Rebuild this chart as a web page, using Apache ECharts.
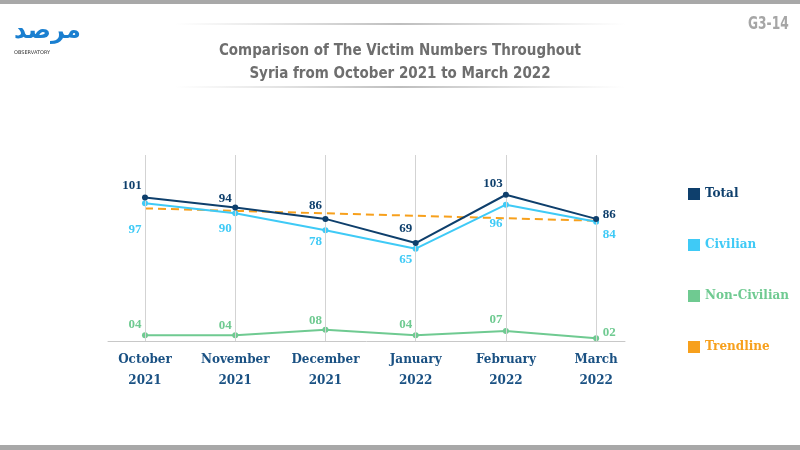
<!DOCTYPE html>
<html><head><meta charset="utf-8">
<script src="https://cdn.jsdelivr.net/npm/echarts@6/dist/echarts.min.js"></script>
<style>html,body{margin:0;padding:0;background:#fff}#c{width:800px;height:450px}</style>
</head><body><div id="c"></div>
<script>
const months = ['October','November','December','January','February','March'];
const years = ['2021','2021','2021','2022','2022','2022'];
const total = [101, 94, 86, 69, 103, 86];
const civilian = [97, 90, 78, 65, 96, 84];
const nonCivilian = [4, 4, 8, 4, 7, 2];
const trendStartEnd = [93.4, 84.7];

const totalOff = [[-13,-12],[-10,-9],[-10,-13],[-10,-14],[-13,-11],[13,-4]];
const civOff = [[-10,26],[-10,15],[-10,11],[-10,11],[-10,19],[13,13]];
const nonOff = [[-10,-11],[-10,-10],[-10,-9],[-10,-11],[-10,-11],[13,-6]];

const C_TOTAL = '#0e3f6c', C_CIV = '#3fcaf6', C_NON = '#6fca91', C_TREND = '#f7a01c';
const serif = 'DejaVu Serif';
const serif2 = '"Liberation Serif", serif';
const cond = '"DejaVu Sans Condensed", "Liberation Sans Narrow", sans-serif';

function build(vals, offs, color, fmt) {
  return vals.map((v, i) => ({
    value: [i, v],
    label: { show: true, position: 'inside', offset: offs[i], color: color,
      fontFamily: serif2, fontWeight: 'bold', fontSize: 13,
      formatter: () => fmt(v) }
  }));
}

const chart = echarts.init(document.getElementById('c'), null, {renderer: 'canvas'});
chart.setOption({
  backgroundColor: '#ffffff',
  animation: false,
  title: {
    text: 'Comparison of The Victim Numbers Throughout\nSyria from October 2021 to March 2022',
    left: 'center', top: 35,
    textStyle: { fontFamily: cond, fontWeight: 'bold', fontSize: 15, color: '#6e6e6e', lineHeight: 23 }
  },
  legend: {
    orient: 'vertical', left: 683, top: 183, itemWidth: 12, itemHeight: 12, itemGap: 39,
    icon: 'rect',
    textStyle: { fontFamily: serif, fontWeight: 'bold', fontSize: 12 },
    data: [
      { name: 'Total', textStyle: { color: C_TOTAL } },
      { name: 'Civilian', textStyle: { color: C_CIV } },
      { name: 'Non-Civilian', textStyle: { color: C_NON } },
      { name: 'Trendline', textStyle: { color: C_TREND } }
    ]
  },
  grid: { left: 108, right: 175, top: 155, bottom: 109 },
  xAxis: {
    type: 'value', min: -0.41, max: 5.32,
    axisLine: { show: true, lineStyle: { color: '#c8c8c8', width: 1 } },
    axisTick: { show: false, customValues: [0,1,2,3,4,5] },
    splitLine: { show: false },
    axisLabel: {
      customValues: [0,1,2,3,4,5], margin: 8,
      formatter: v => '{a|' + months[v] + '}\n{a|' + years[v] + '}',
      rich: { a: { fontFamily: serif, fontWeight: 'bold', fontSize: 12, color: '#1a5183', lineHeight: 21 } }
    }
  },
  yAxis: { type: 'value', min: 0, max: 131, show: false, splitLine: { show: false } },
  series: [
    { name: 'Total', type: 'line', data: build(total, totalOff, C_TOTAL, v => String(v)),
      color: C_TOTAL, symbol: 'circle', symbolSize: 6, lineStyle: { width: 2, color: C_TOTAL }, z: 5,
      markLine: { silent: true, symbol: 'none', label: { show: false },
        lineStyle: { color: '#d3d3d3', width: 1, type: 'solid' },
        data: [0,1,2,3,4,5].map(i => ({ xAxis: i })) } },
    { name: 'Civilian', type: 'line', data: build(civilian, civOff, C_CIV, v => String(v)),
      color: C_CIV, symbol: 'circle', symbolSize: 6, lineStyle: { width: 2, color: C_CIV }, z: 4 },
    { name: 'Non-Civilian', type: 'line', data: build(nonCivilian, nonOff, C_NON, v => String(v).padStart(2,'0')),
      color: C_NON, symbol: 'circle', symbolSize: 6, lineStyle: { width: 2, color: C_NON }, z: 4 },
    { name: 'Trendline', type: 'line', data: [[0, trendStartEnd[0]], [5, trendStartEnd[1]]],
      color: C_TREND, symbol: 'none', lineStyle: { width: 2, type: [8,5], color: C_TREND }, z: 3 }
  ],
  graphic: [
    { type: 'rect', shape: { x: 0, y: 0, width: 800, height: 4 }, style: { fill: '#a8a8a8' } },
    { type: 'rect', shape: { x: 0, y: 445, width: 800, height: 5 }, style: { fill: '#a8a8a8' } },
    { type: 'rect', shape: { x: 175, y: 23, width: 450, height: 2 },
      style: { fill: new echarts.graphic.LinearGradient(0,0,1,0,[{offset:0,color:'rgba(200,200,200,0)'},{offset:0.5,color:'rgba(190,190,190,1)'},{offset:1,color:'rgba(200,200,200,0)'}]) } },
    { type: 'rect', shape: { x: 175, y: 86, width: 450, height: 2 },
      style: { fill: new echarts.graphic.LinearGradient(0,0,1,0,[{offset:0,color:'rgba(200,200,200,0)'},{offset:0.5,color:'rgba(190,190,190,1)'},{offset:1,color:'rgba(200,200,200,0)'}]) } },
    { type: 'text', x: 748, y: 16, scaleX: 0.8, style: { text: 'G3-14', fill: '#a6a6a6', font: 'bold 17px ' + cond } },
    { type: 'text', left: 14, top: 20, style: { text: 'مرصد', fill: '#1a7fd0', font: 'bold 24px "DejaVu Sans"' } },
    { type: 'text', left: 14, top: 50, style: { text: 'OBSERVATORY', fill: '#333', font: '5px "DejaVu Sans"' } }
  ]
});
</script></body></html>
